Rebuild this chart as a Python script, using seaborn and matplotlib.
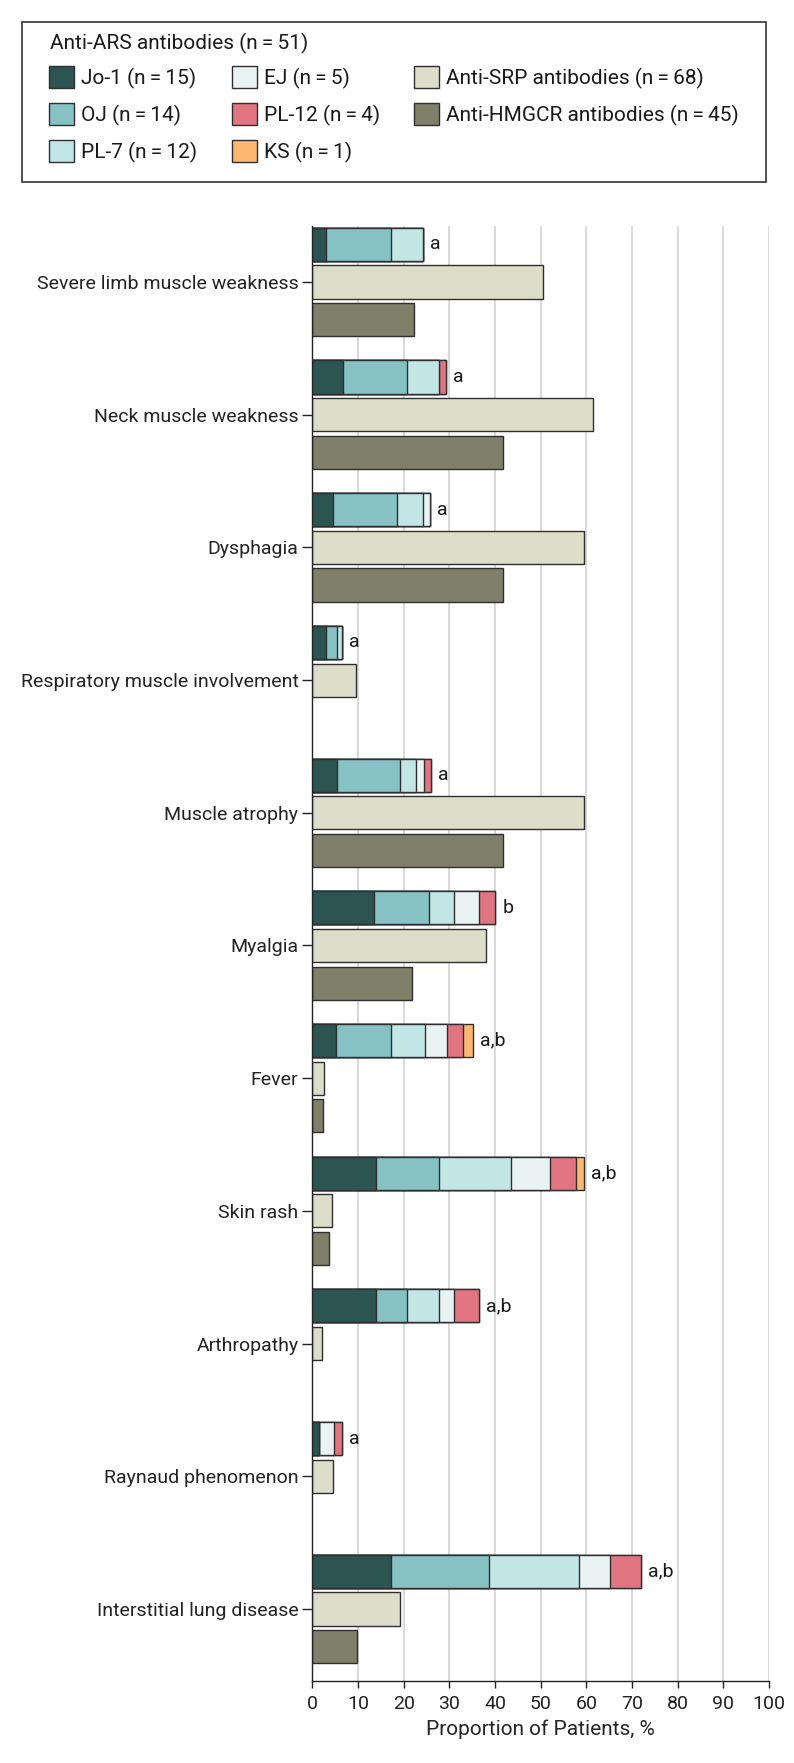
import numpy as np
import pandas as pd
import matplotlib
matplotlib.use("Agg")
import matplotlib.pyplot as plt
from matplotlib.patches import Patch, Rectangle
import seaborn as sns

# ---------------- data ----------------
symptoms = ["Severe limb muscle weakness", "Neck muscle weakness", "Dysphagia",
            "Respiratory muscle involvement", "Muscle atrophy", "Myalgia", "Fever",
            "Skin rash", "Arthropathy", "Raynaud phenomenon", "Interstitial lung disease"]

# Anti-ARS antibody subgroups (stacked segments, %)
jo1 = [3.1, 6.8, 4.6, 3.1, 5.3, 13.6, 5.2, 13.9, 13.9, 1.4, 17.2]
oj = [14.2, 14.0, 14.0, 2.2, 13.9, 12.0, 12.1, 13.9, 6.8, 0.0, 21.6]
pl7 = [6.9, 6.9, 5.7, 1.3, 3.6, 5.5, 7.4, 15.8, 7.1, 0.0, 19.6]
ej = [0.0, 0.0, 1.4, 0.0, 1.7, 5.5, 4.9, 8.5, 3.3, 3.4, 6.7]
pl12 = [0.0, 1.5, 0.0, 0.0, 1.6, 3.5, 3.5, 5.7, 5.4, 1.8, 6.9]
ks = [0.0, 0.0, 0.0, 0.0, 0.0, 0.0, 2.0, 1.8, 0.0, 0.0, 0.0]

srp = [50.6, 61.5, 59.5, 9.6, 59.6, 38.0, 2.5, 4.4, 2.2, 4.6, 19.1]
hmgcr = [22.3, 41.7, 41.7, 0.0, 41.7, 21.8, 2.3, 3.6, 0.0, 0.0, 9.7]

annotations = ["a", "a", "a", "a", "a", "b", "a,b", "a,b", "a,b", "a", "a,b"]

ts = "\u2009"
stack_labels = [f"Jo-1 (n{ts}={ts}15)", f"OJ (n{ts}={ts}14)", f"PL-7 (n{ts}={ts}12)",
                f"EJ (n{ts}={ts}5)", f"PL-12 (n{ts}={ts}4)", f"KS (n{ts}={ts}1)"]
srp_label = f"Anti-SRP antibodies (n{ts}={ts}68)"
hmgcr_label = f"Anti-HMGCR antibodies (n{ts}={ts}45)"
legend_title = f"Anti-ARS antibodies (n{ts}={ts}51)"
xlabel = "Proportion of Patients, %"

# ---------------- style ----------------
stack_colors = ["#2c5552", "#86c2c3", "#c2e5e5", "#e9f3f4", "#e07481", "#fdb972"]
srp_color = "#dcdec9"
hmgcr_color = "#807f6a"
EDGE = "#2f2f2f"

sns.set_theme(style="ticks")
plt.rcParams["font.family"] = ["Roboto", "DejaVu Sans"]
plt.rcParams["text.color"] = "#1a1a1a"
plt.rcParams["xtick.color"] = "#222222"
plt.rcParams["ytick.color"] = "#222222"

W, H = 794, 1763
fig = plt.figure(figsize=(W / 100, H / 100), dpi=100)
ax = fig.add_axes([312.3 / W, 1 - 1681 / H, (769 - 312.3) / W, (1681 - 226) / H])

groups = ["ARS", "SRP", "HMGCR"]
common = dict(y="symptom", x="value", hue="group", hue_order=groups, order=symptoms,
              orient="y", width=0.852, gap=0.12, dodge=True, errorbar=None,
              legend=False, edgecolor=EDGE, linewidth=1.0, saturation=1, ax=ax)

stacks = np.array([jo1, oj, pl7, ej, pl12, ks])
cum = np.cumsum(stacks, axis=0)

ars_bars = None
for k in range(len(stacks) - 1, -1, -1):
    df = pd.DataFrame({"symptom": symptoms, "group": "ARS", "value": cum[k]})
    pal = {"ARS": stack_colors[k], "SRP": srp_color, "HMGCR": hmgcr_color}
    sns.barplot(data=df, palette=pal, **common)
    if ars_bars is None:
        ars_bars = sorted(list(ax.patches), key=lambda b: b.get_y())

df2 = pd.DataFrame({"symptom": symptoms * 2,
                    "group": ["SRP"] * len(symptoms) + ["HMGCR"] * len(symptoms),
                    "value": srp + hmgcr})
df2 = df2[df2["value"] > 0]
pal = {"ARS": stack_colors[0], "SRP": srp_color, "HMGCR": hmgcr_color}
sns.barplot(data=df2, palette=pal, **common)

for bar, lab in zip(ars_bars, annotations):
    ax.annotate(lab, (bar.get_width(), bar.get_y() + bar.get_height() / 2),
                xytext=(5, 0), textcoords="offset points", va="center", ha="left",
                fontsize=14, annotation_clip=False)

ax.set_xlim(0, 100)
ax.set_ylim(10.543, -0.422)
ax.set_xticks(range(0, 101, 10))
ax.set_xlabel(xlabel, fontsize=15, labelpad=5)
ax.set_ylabel("")
ax.tick_params(axis="y", length=7, width=1, pad=3, labelsize=14)
ax.tick_params(axis="x", length=5, width=1, pad=5, labelsize=14)
ax.grid(axis="x", color="#d9d9d9", lw=1.4)
ax.grid(axis="y", visible=False)
ax.set_axisbelow(True)
for s in ["top", "right"]:
    ax.spines[s].set_visible(False)
for s in ["left", "bottom"]:
    ax.spines[s].set_color("#222222")
    ax.spines[s].set_linewidth(1.0)

# ---------------- legend ----------------
handles = [Patch(facecolor=c, edgecolor=EDGE, lw=1.0) for c in stack_colors]
handles += [Patch(facecolor=srp_color, edgecolor=EDGE, lw=1.0),
            Patch(facecolor=hmgcr_color, edgecolor=EDGE, lw=1.0),
            Patch(facecolor="none", edgecolor="none")]
labels = stack_labels + [srp_label, hmgcr_label, ""]
fs_leg = 15
em = fs_leg * 100 / 72
leg = fig.legend(handles, labels, loc="upper left",
                 bbox_to_anchor=(49 / W, 1 - 66.5 / H, 690 / W, 0),
                 mode="expand", ncol=3, frameon=False, borderpad=0, borderaxespad=0,
                 fontsize=fs_leg,
                 handlelength=25 / em, handleheight=25 / em, handletextpad=7 / em,
                 labelspacing=14.5 / em, columnspacing=1.0)
fig.text(50 / W, 1 - 43 / H, legend_title, fontsize=fs_leg, ha="left", va="center")
fig.add_artist(Rectangle((22 / W, 1 - 182 / H), (766 - 22) / W, 160 / H,
                         transform=fig.transFigure, fill=False, ec="#333333", lw=1.2))

fig.savefig("out.png", dpi=100)
